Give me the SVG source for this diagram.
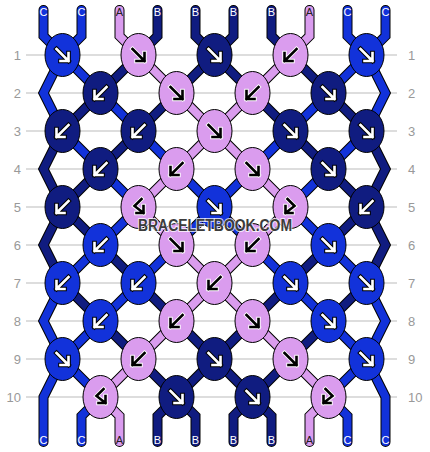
<svg xmlns="http://www.w3.org/2000/svg" xmlns:xlink="http://www.w3.org/1999/xlink" width="430" height="452" viewBox="0 0 430 452">
<style>
.grid{stroke:#bbb;stroke-width:1}
.rn{font-family:"Liberation Sans",Arial,sans-serif;font-size:13px;fill:#999}
.o{fill:none;stroke:#000;stroke-width:10;stroke-linejoin:miter;stroke-linecap:round}
.t{fill:none;stroke-width:8;stroke-linejoin:miter;stroke-linecap:round}
.t.C{stroke:#1232DA}.t.B{stroke:#101C80}.t.A{stroke:#DA9CEE}
ellipse{stroke:#000;stroke-width:1}
ellipse.C{fill:#1232DA}ellipse.B{fill:#101C80}ellipse.A{fill:#DA9CEE}
.wo{fill:none;stroke:#000;stroke-width:4.6;stroke-linecap:square}
.wi{fill:none;stroke:#fff;stroke-width:2.6;stroke-linecap:square}
.bo{fill:none;stroke:#fff;stroke-width:4.4;stroke-linecap:square}
.bi{fill:none;stroke:#000;stroke-width:2.6;stroke-linecap:square}
.lb{font-family:"Liberation Sans",Arial,sans-serif;font-size:11px;text-anchor:middle}
.lw{fill:#fff}.ld{fill:#222}
.wm{font-family:"Liberation Sans",Arial,sans-serif;font-weight:bold;font-size:16px;fill:#3c3c3c;stroke:#fff;stroke-opacity:0.75;stroke-width:2.2;paint-order:stroke;text-anchor:middle}
</style>
<defs>
<path id="se" d="M-6,-6 L6,6 M-2,6 L6,6 L6,-2"/>
<path id="sw" d="M6,-6 L-6,6 M2,6 L-6,6 L-6,-2"/>
<path id="bf" d="M3,-8 L-4,-1 L5,6 M-2,6 L5,6 L5,-1"/>
<path id="fb" d="M-3,-8 L4,-1 L-5,6 M2,6 L-5,6 L-5,-1"/>
</defs>
<g id="grid">
<line class="grid" x1="26" y1="55" x2="397" y2="55"/>
<line class="grid" x1="26" y1="93" x2="397" y2="93"/>
<line class="grid" x1="26" y1="131" x2="397" y2="131"/>
<line class="grid" x1="26" y1="169" x2="397" y2="169"/>
<line class="grid" x1="26" y1="207" x2="397" y2="207"/>
<line class="grid" x1="26" y1="245" x2="397" y2="245"/>
<line class="grid" x1="26" y1="283" x2="397" y2="283"/>
<line class="grid" x1="26" y1="321" x2="397" y2="321"/>
<line class="grid" x1="26" y1="359" x2="397" y2="359"/>
<line class="grid" x1="26" y1="397" x2="397" y2="397"/>
</g>
<g id="rownums">
<text class="rn" x="21" y="60" text-anchor="end">1</text><text class="rn" x="408" y="60">1</text>
<text class="rn" x="21" y="98" text-anchor="end">2</text><text class="rn" x="408" y="98">2</text>
<text class="rn" x="21" y="136" text-anchor="end">3</text><text class="rn" x="408" y="136">3</text>
<text class="rn" x="21" y="174" text-anchor="end">4</text><text class="rn" x="408" y="174">4</text>
<text class="rn" x="21" y="212" text-anchor="end">5</text><text class="rn" x="408" y="212">5</text>
<text class="rn" x="21" y="250" text-anchor="end">6</text><text class="rn" x="408" y="250">6</text>
<text class="rn" x="21" y="288" text-anchor="end">7</text><text class="rn" x="408" y="288">7</text>
<text class="rn" x="21" y="326" text-anchor="end">8</text><text class="rn" x="408" y="326">8</text>
<text class="rn" x="21" y="364" text-anchor="end">9</text><text class="rn" x="408" y="364">9</text>
<text class="rn" x="21" y="402" text-anchor="end">10</text><text class="rn" x="408" y="402">10</text>
</g>
<g transform="translate(0.5,0)">
<g id="connectors">
<g id="outlines">
<path class="o" d="M43,10 L43,36 L62,55 L100,93 L138,131 L176,169 L214,207 L252,245 L290,283 L328,321 L366,359 L385,397 L385,416 L385,442"/>
<path class="o" d="M81,10 L81,36 L62,55 L43,93 L62,131 L100,169 L138,207 L100,245 L62,283 L43,321 L62,359 L100,397 L81,416 L81,442"/>
<path class="o" d="M119,10 L119,36 L138,55 L176,93 L214,131 L252,169 L290,207 L252,245 L214,283 L176,321 L138,359 L100,397 L119,416 L119,442"/>
<path class="o" d="M157,10 L157,36 L138,55 L100,93 L62,131 L43,169 L62,207 L100,245 L138,283 L176,321 L214,359 L252,397 L271,416 L271,442"/>
<path class="o" d="M195,10 L195,36 L214,55 L252,93 L290,131 L328,169 L366,207 L385,245 L366,283 L328,321 L290,359 L252,397 L233,416 L233,442"/>
<path class="o" d="M233,10 L233,36 L214,55 L176,93 L138,131 L100,169 L62,207 L43,245 L62,283 L100,321 L138,359 L176,397 L195,416 L195,442"/>
<path class="o" d="M271,10 L271,36 L290,55 L328,93 L366,131 L385,169 L366,207 L328,245 L290,283 L252,321 L214,359 L176,397 L157,416 L157,442"/>
<path class="o" d="M309,10 L309,36 L290,55 L252,93 L214,131 L176,169 L138,207 L176,245 L214,283 L252,321 L290,359 L328,397 L309,416 L309,442"/>
<path class="o" d="M347,10 L347,36 L366,55 L385,93 L366,131 L328,169 L290,207 L328,245 L366,283 L385,321 L366,359 L328,397 L347,416 L347,442"/>
<path class="o" d="M385,10 L385,36 L366,55 L328,93 L290,131 L252,169 L214,207 L176,245 L138,283 L100,321 L62,359 L43,397 L43,416 L43,442"/>
</g>
<g id="threads">
<path class="t C" d="M43,10 L43,36 L62,55 L100,93 L138,131 L176,169 L214,207 L252,245 L290,283 L328,321 L366,359 L385,397 L385,416 L385,442"/>
<path class="t C" d="M81,10 L81,36 L62,55 L43,93 L62,131 L100,169 L138,207 L100,245 L62,283 L43,321 L62,359 L100,397 L81,416 L81,442"/>
<path class="t A" d="M119,10 L119,36 L138,55 L176,93 L214,131 L252,169 L290,207 L252,245 L214,283 L176,321 L138,359 L100,397 L119,416 L119,442"/>
<path class="t B" d="M157,10 L157,36 L138,55 L100,93 L62,131 L43,169 L62,207 L100,245 L138,283 L176,321 L214,359 L252,397 L271,416 L271,442"/>
<path class="t B" d="M195,10 L195,36 L214,55 L252,93 L290,131 L328,169 L366,207 L385,245 L366,283 L328,321 L290,359 L252,397 L233,416 L233,442"/>
<path class="t B" d="M233,10 L233,36 L214,55 L176,93 L138,131 L100,169 L62,207 L43,245 L62,283 L100,321 L138,359 L176,397 L195,416 L195,442"/>
<path class="t B" d="M271,10 L271,36 L290,55 L328,93 L366,131 L385,169 L366,207 L328,245 L290,283 L252,321 L214,359 L176,397 L157,416 L157,442"/>
<path class="t A" d="M309,10 L309,36 L290,55 L252,93 L214,131 L176,169 L138,207 L176,245 L214,283 L252,321 L290,359 L328,397 L309,416 L309,442"/>
<path class="t C" d="M347,10 L347,36 L366,55 L385,93 L366,131 L328,169 L290,207 L328,245 L366,283 L385,321 L366,359 L328,397 L347,416 L347,442"/>
<path class="t C" d="M385,10 L385,36 L366,55 L328,93 L290,131 L252,169 L214,207 L176,245 L138,283 L100,321 L62,359 L43,397 L43,416 L43,442"/>
</g>
</g>
<g id="labels-top">
<text class="lb lw" x="43" y="16">C</text><text class="lb lw" x="81" y="16">C</text><text class="lb ld" x="119" y="16">A</text><text class="lb lw" x="157" y="16">B</text><text class="lb lw" x="195" y="16">B</text><text class="lb lw" x="233" y="16">B</text><text class="lb lw" x="271" y="16">B</text><text class="lb ld" x="309" y="16">A</text><text class="lb lw" x="347" y="16">C</text><text class="lb lw" x="385" y="16">C</text>
</g>
<g id="labels-bottom">
<text class="lb lw" x="43" y="444">C</text><text class="lb lw" x="81" y="444">C</text><text class="lb ld" x="119" y="444">A</text><text class="lb lw" x="157" y="444">B</text><text class="lb lw" x="195" y="444">B</text><text class="lb lw" x="233" y="444">B</text><text class="lb lw" x="271" y="444">B</text><text class="lb ld" x="309" y="444">A</text><text class="lb lw" x="347" y="444">C</text><text class="lb lw" x="385" y="444">C</text>
</g>
<g id="k1-1"><ellipse class="C" cx="62" cy="55" rx="17.5" ry="21.5"/><use href="#se" x="62" y="55" class="wo"/><use href="#se" x="62" y="55" class="wi"/></g>
<g id="k1-2"><ellipse class="A" cx="138" cy="55" rx="17.5" ry="21.5"/><use href="#se" x="138" y="55" class="bo"/><use href="#se" x="138" y="55" class="bi"/></g>
<g id="k1-3"><ellipse class="B" cx="214" cy="55" rx="17.5" ry="21.5"/><use href="#se" x="214" y="55" class="wo"/><use href="#se" x="214" y="55" class="wi"/></g>
<g id="k1-4"><ellipse class="A" cx="290" cy="55" rx="17.5" ry="21.5"/><use href="#sw" x="290" y="55" class="bo"/><use href="#sw" x="290" y="55" class="bi"/></g>
<g id="k1-5"><ellipse class="C" cx="366" cy="55" rx="17.5" ry="21.5"/><use href="#se" x="366" y="55" class="wo"/><use href="#se" x="366" y="55" class="wi"/></g>
<g id="k2-1"><ellipse class="B" cx="100" cy="93" rx="17.5" ry="21.5"/><use href="#sw" x="100" y="93" class="wo"/><use href="#sw" x="100" y="93" class="wi"/></g>
<g id="k2-2"><ellipse class="A" cx="176" cy="93" rx="17.5" ry="21.5"/><use href="#se" x="176" y="93" class="bo"/><use href="#se" x="176" y="93" class="bi"/></g>
<g id="k2-3"><ellipse class="A" cx="252" cy="93" rx="17.5" ry="21.5"/><use href="#sw" x="252" y="93" class="bo"/><use href="#sw" x="252" y="93" class="bi"/></g>
<g id="k2-4"><ellipse class="B" cx="328" cy="93" rx="17.5" ry="21.5"/><use href="#se" x="328" y="93" class="wo"/><use href="#se" x="328" y="93" class="wi"/></g>
<g id="k3-1"><ellipse class="B" cx="62" cy="131" rx="17.5" ry="21.5"/><use href="#sw" x="62" y="131" class="wo"/><use href="#sw" x="62" y="131" class="wi"/></g>
<g id="k3-2"><ellipse class="B" cx="138" cy="131" rx="17.5" ry="21.5"/><use href="#sw" x="138" y="131" class="wo"/><use href="#sw" x="138" y="131" class="wi"/></g>
<g id="k3-3"><ellipse class="A" cx="214" cy="131" rx="17.5" ry="21.5"/><use href="#se" x="214" y="131" class="bo"/><use href="#se" x="214" y="131" class="bi"/></g>
<g id="k3-4"><ellipse class="B" cx="290" cy="131" rx="17.5" ry="21.5"/><use href="#se" x="290" y="131" class="wo"/><use href="#se" x="290" y="131" class="wi"/></g>
<g id="k3-5"><ellipse class="B" cx="366" cy="131" rx="17.5" ry="21.5"/><use href="#se" x="366" y="131" class="wo"/><use href="#se" x="366" y="131" class="wi"/></g>
<g id="k4-1"><ellipse class="B" cx="100" cy="169" rx="17.5" ry="21.5"/><use href="#sw" x="100" y="169" class="wo"/><use href="#sw" x="100" y="169" class="wi"/></g>
<g id="k4-2"><ellipse class="A" cx="176" cy="169" rx="17.5" ry="21.5"/><use href="#sw" x="176" y="169" class="bo"/><use href="#sw" x="176" y="169" class="bi"/></g>
<g id="k4-3"><ellipse class="A" cx="252" cy="169" rx="17.5" ry="21.5"/><use href="#se" x="252" y="169" class="bo"/><use href="#se" x="252" y="169" class="bi"/></g>
<g id="k4-4"><ellipse class="B" cx="328" cy="169" rx="17.5" ry="21.5"/><use href="#se" x="328" y="169" class="wo"/><use href="#se" x="328" y="169" class="wi"/></g>
<g id="k5-1"><ellipse class="B" cx="62" cy="207" rx="17.5" ry="21.5"/><use href="#sw" x="62" y="207" class="wo"/><use href="#sw" x="62" y="207" class="wi"/></g>
<g id="k5-2"><ellipse class="A" cx="138" cy="207" rx="17.5" ry="21.5"/><use href="#bf" x="138" y="207" class="bo"/><use href="#bf" x="138" y="207" class="bi"/></g>
<g id="k5-3"><ellipse class="C" cx="214" cy="207" rx="17.5" ry="21.5"/><use href="#se" x="214" y="207" class="wo"/><use href="#se" x="214" y="207" class="wi"/></g>
<g id="k5-4"><ellipse class="A" cx="290" cy="207" rx="17.5" ry="21.5"/><use href="#fb" x="290" y="207" class="bo"/><use href="#fb" x="290" y="207" class="bi"/></g>
<g id="k5-5"><ellipse class="B" cx="366" cy="207" rx="17.5" ry="21.5"/><use href="#sw" x="366" y="207" class="wo"/><use href="#sw" x="366" y="207" class="wi"/></g>
<g id="k6-1"><ellipse class="C" cx="100" cy="245" rx="17.5" ry="21.5"/><use href="#sw" x="100" y="245" class="wo"/><use href="#sw" x="100" y="245" class="wi"/></g>
<g id="k6-2"><ellipse class="A" cx="176" cy="245" rx="17.5" ry="21.5"/><use href="#se" x="176" y="245" class="bo"/><use href="#se" x="176" y="245" class="bi"/></g>
<g id="k6-3"><ellipse class="A" cx="252" cy="245" rx="17.5" ry="21.5"/><use href="#sw" x="252" y="245" class="bo"/><use href="#sw" x="252" y="245" class="bi"/></g>
<g id="k6-4"><ellipse class="C" cx="328" cy="245" rx="17.5" ry="21.5"/><use href="#se" x="328" y="245" class="wo"/><use href="#se" x="328" y="245" class="wi"/></g>
<g id="k7-1"><ellipse class="C" cx="62" cy="283" rx="17.5" ry="21.5"/><use href="#sw" x="62" y="283" class="wo"/><use href="#sw" x="62" y="283" class="wi"/></g>
<g id="k7-2"><ellipse class="C" cx="138" cy="283" rx="17.5" ry="21.5"/><use href="#sw" x="138" y="283" class="wo"/><use href="#sw" x="138" y="283" class="wi"/></g>
<g id="k7-3"><ellipse class="A" cx="214" cy="283" rx="17.5" ry="21.5"/><use href="#sw" x="214" y="283" class="bo"/><use href="#sw" x="214" y="283" class="bi"/></g>
<g id="k7-4"><ellipse class="C" cx="290" cy="283" rx="17.5" ry="21.5"/><use href="#se" x="290" y="283" class="wo"/><use href="#se" x="290" y="283" class="wi"/></g>
<g id="k7-5"><ellipse class="C" cx="366" cy="283" rx="17.5" ry="21.5"/><use href="#se" x="366" y="283" class="wo"/><use href="#se" x="366" y="283" class="wi"/></g>
<g id="k8-1"><ellipse class="C" cx="100" cy="321" rx="17.5" ry="21.5"/><use href="#sw" x="100" y="321" class="wo"/><use href="#sw" x="100" y="321" class="wi"/></g>
<g id="k8-2"><ellipse class="A" cx="176" cy="321" rx="17.5" ry="21.5"/><use href="#sw" x="176" y="321" class="bo"/><use href="#sw" x="176" y="321" class="bi"/></g>
<g id="k8-3"><ellipse class="A" cx="252" cy="321" rx="17.5" ry="21.5"/><use href="#se" x="252" y="321" class="bo"/><use href="#se" x="252" y="321" class="bi"/></g>
<g id="k8-4"><ellipse class="C" cx="328" cy="321" rx="17.5" ry="21.5"/><use href="#se" x="328" y="321" class="wo"/><use href="#se" x="328" y="321" class="wi"/></g>
<g id="k9-1"><ellipse class="C" cx="62" cy="359" rx="17.5" ry="21.5"/><use href="#se" x="62" y="359" class="wo"/><use href="#se" x="62" y="359" class="wi"/></g>
<g id="k9-2"><ellipse class="A" cx="138" cy="359" rx="17.5" ry="21.5"/><use href="#sw" x="138" y="359" class="bo"/><use href="#sw" x="138" y="359" class="bi"/></g>
<g id="k9-3"><ellipse class="B" cx="214" cy="359" rx="17.5" ry="21.5"/><use href="#se" x="214" y="359" class="wo"/><use href="#se" x="214" y="359" class="wi"/></g>
<g id="k9-4"><ellipse class="A" cx="290" cy="359" rx="17.5" ry="21.5"/><use href="#se" x="290" y="359" class="bo"/><use href="#se" x="290" y="359" class="bi"/></g>
<g id="k9-5"><ellipse class="C" cx="366" cy="359" rx="17.5" ry="21.5"/><use href="#se" x="366" y="359" class="wo"/><use href="#se" x="366" y="359" class="wi"/></g>
<g id="k10-1"><ellipse class="A" cx="100" cy="397" rx="17.5" ry="21.5"/><use href="#bf" x="100" y="397" class="bo"/><use href="#bf" x="100" y="397" class="bi"/></g>
<g id="k10-2"><ellipse class="B" cx="176" cy="397" rx="17.5" ry="21.5"/><use href="#se" x="176" y="397" class="wo"/><use href="#se" x="176" y="397" class="wi"/></g>
<g id="k10-3"><ellipse class="B" cx="252" cy="397" rx="17.5" ry="21.5"/><use href="#se" x="252" y="397" class="wo"/><use href="#se" x="252" y="397" class="wi"/></g>
<g id="k10-4"><ellipse class="A" cx="328" cy="397" rx="17.5" ry="21.5"/><use href="#fb" x="328" y="397" class="bo"/><use href="#fb" x="328" y="397" class="bi"/></g>
</g>
<text id="watermark" class="wm" x="215" y="231" textLength="154" lengthAdjust="spacingAndGlyphs">BRACELETBOOK.COM</text>
</svg>
